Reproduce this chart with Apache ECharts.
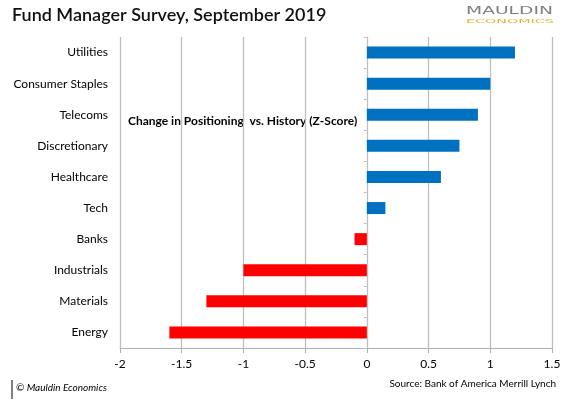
<!DOCTYPE html>
<html>
<head>
<meta charset="utf-8">
<script src="https://cdn.jsdelivr.net/npm/echarts@6/dist/echarts.min.js"></script>
<style>html,body{margin:0;padding:0;background:#fff}#c{width:588px;height:405px}</style>
</head>
<body>
<div id="c"></div>
<script>
var categories = ['Utilities','Consumer Staples','Telecoms','Discretionary','Healthcare','Tech','Banks','Industrials','Materials','Energy'];
var zScores = [1.2, 1.0, 0.9, 0.75, 0.6, 0.15, -0.1, -1.0, -1.3, -1.6];
var xTicks = {min: -2, max: 1.5, interval: 0.5};

var chart = echarts.init(document.getElementById('c'), null, {renderer: 'canvas'});
var F = 'Lato, "Noto Sans", sans-serif';
chart.setOption({
  backgroundColor: '#fff',
  animation: false,
  grid: {left: 120, right: 36, top: 37, bottom: 57, containLabel: false},
  xAxis: {
    type: 'value', min: xTicks.min, max: xTicks.max, interval: xTicks.interval,
    axisLine: {show: true, onZero: false, lineStyle: {color: '#b0b0b0', width: 1}},
    axisTick: {show: true, length: 5, lineStyle: {color: '#b0b0b0'}},
    axisLabel: {color: '#000', fontSize: 12, fontFamily: F, margin: 10},
    splitLine: {show: true, lineStyle: {color: '#bfbfbf', width: 1.3}}
  },
  yAxis: [{
    type: 'category', data: categories, inverse: true,
    axisLine: {show: false, onZero: false},
    axisTick: {show: false},
    axisLabel: {color: '#000', fontSize: 12, fontFamily: F, margin: 12}
  }, {
    type: 'category', data: categories, inverse: true, position: 'left',
    axisLine: {show: true, onZero: true, onZeroAxisIndex: 0, lineStyle: {color: '#bfbfbf'}},
    axisTick: {show: true, length: 3, lineStyle: {color: '#bfbfbf'}},
    axisLabel: {show: false}
  }],
  series: [{
    type: 'bar', data: zScores, yAxisIndex: 0, barWidth: 12,
    itemStyle: {color: function (p) { return p.value >= 0 ? '#0070C0' : '#FF0000'; }}
  }],
  graphic: [
    {type: 'text', left: 12, top: 6, style: {text: 'Fund Manager Survey, September 2019', font: '600 18px ' + F, fill: '#111'}},
    {type: 'text', x: 466, y: 6, scaleX: 1.7, style: {text: 'MAULDIN', font: '11px "DejaVu Sans", sans-serif', fill: '#808080'}},
    {type: 'text', x: 466, y: 19, scaleX: 2.6, style: {text: 'ECONOMICS', font: '5.5px "DejaVu Sans", sans-serif', fill: '#E3B22E'}},
    {type: 'text', left: 128, top: 115, style: {text: 'Change in Positioning  vs. History (Z-Score)', font: 'bold 12px ' + F, fill: '#000'}},
    {type: 'line', shape: {x1: 12, y1: 380, x2: 12, y2: 399}, style: {stroke: '#000', lineWidth: 1}},
    {type: 'text', left: 16, top: 383, style: {text: '© Mauldin Economics', font: 'italic 10px ' + F, fill: '#000'}},
    {type: 'text', right: 32, top: 379, style: {text: 'Source: Bank of America Merrill Lynch', font: '10px ' + F, fill: '#000'}}
  ]
});
</script>
</body>
</html>
